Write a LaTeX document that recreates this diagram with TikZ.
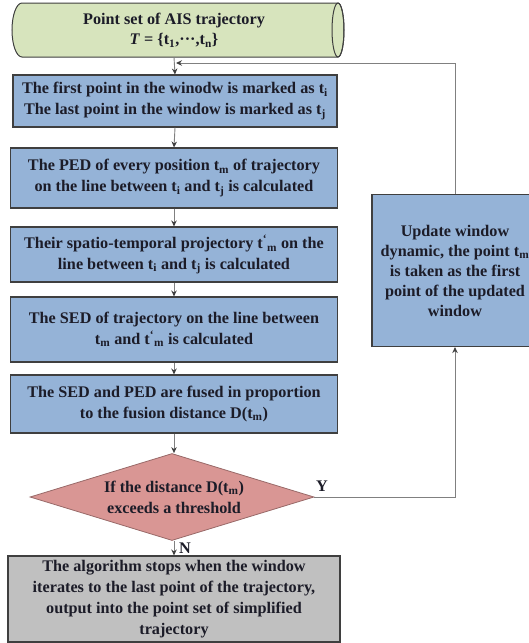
\documentclass[tikz,border=0pt]{standalone}
\usepackage{fontspec}
\setmainfont{Liberation Serif}
\usetikzlibrary{arrows.meta,shapes.geometric}
\definecolor{cylg}{HTML}{D7E4BD}
\definecolor{boxblue}{HTML}{95B3D7}
\definecolor{decred}{HTML}{D99694}
\definecolor{endgray}{HTML}{C0C0C0}
\definecolor{boxline}{HTML}{3F3F3F}
\definecolor{linegray}{HTML}{808080}
\definecolor{arrdark}{HTML}{404040}
\definecolor{txt}{HTML}{1C1C28}
\newcommand{\tpm}{t\textsuperscript{\textquoteleft}\textsubscript{m}}
\begin{document}
\begin{tikzpicture}[x=1pt,y=-1pt,
  box/.style={draw=boxline, line width=1.1pt, fill=boxblue, inner sep=1pt, align=center,
    font=\fontsize{16.2}{20.8}\selectfont\bfseries, text=txt},
  plain/.style={inner sep=0pt, align=center, font=\fontsize{16.2}{20.8}\selectfont\bfseries, text=txt},
  conn/.style={draw=linegray, line width=0.9pt},
  arr/.style={conn, -{Stealth[length=6pt,width=5.5pt,color=arrdark]}}]
\useasboundingbox (0,0) rectangle (528,643);
% cylinder
\filldraw[fill=cylg, draw=boxline, line width=1pt]
  (22,3) -- (338,3) arc[start angle=90, end angle=-90, x radius=6pt, y radius=27pt]
  -- (22,57) arc[start angle=270, end angle=90, x radius=10pt, y radius=27pt] -- cycle;
\draw[boxline, line width=1pt] (338,30) ellipse [x radius=6pt, y radius=27pt];
\node[plain, minimum width=300pt, minimum height=54pt] (cyl) at (174,30)
  {Point set of AIS trajectory\\\textit{T} = \{t\textsubscript{1},\textperiodcentered\textperiodcentered\textperiodcentered,t\textsubscript{n}\}};
% boxes
\node[box, minimum width=324pt, minimum height=52pt] (b1) at (175,101)
  {The first point in the winodw is marked as t\textsubscript{i}\\The last point in the window is marked as t\textsubscript{j}};
\node[box, minimum width=327pt, minimum height=60pt] (b2) at (174,178)
  {The PED of every position t\textsubscript{m} of trajectory\\on the line between t\textsubscript{i} and t\textsubscript{j} is calculated};
\node[box, minimum width=327pt, minimum height=55pt] (b3) at (174,254.5)
  {Their spatio-temporal projectory \tpm{} on the\\line between t\textsubscript{i} and t\textsubscript{j} is calculated};
\node[box, minimum width=327pt, minimum height=65pt] (b4) at (174,329.5)
  {The SED of trajectory on the line between\\t\textsubscript{m} and \tpm{} is calculated};
\node[box, minimum width=327pt, minimum height=58pt] (b5) at (174,404)
  {The SED and PED are fused in proportion\\to the fusion distance D(t\textsubscript{m})};
\node[draw=decred!70!black, line width=0.8pt, fill=decred, diamond, minimum width=284pt, minimum height=87pt, inner sep=0pt] (dec) at (172,497) {};
\node[plain] (dect) at (174,497) {If the distance D(t\textsubscript{m})\\exceeds a threshold};
\node[box, fill=endgray, minimum width=332pt, minimum height=86pt] (b6) at (174,599)
  {The algorithm stops when the window\\iterates to the last point of the trajectory,\\output into the point set of simplified\\trajectory};
\node[box, minimum width=166pt, minimum height=152pt, font=\fontsize{16.2}{20}\selectfont\bfseries] (upd) at (455,270.5)
  {Update window\\dynamic, the point t\textsubscript{m}\\is taken as the first\\point of the updated\\window};
% connectors
\coordinate (j) at (176,63);
\draw[arr] (cyl.south) -- (b1.north);
\draw[arr] (b1.south) -- (b2.north);
\draw[arr] (b2.south) -- (b3.north);
\draw[arr] (b3.south) -- (b4.north);
\draw[arr] (b4.south) -- (b5.north);
\draw[arr] (b5.south) -- (b5.south |- dec.north);
\draw[arr] (b6.north |- dec.south) -- (b6.north);
\draw[arr] (dec.east) -| (upd.south);
\draw[arr] (upd.north) |- (j);
\node[plain] (ylab) at (322,486) {Y};
\node[plain] (nlab) at (185,548) {N};
\end{tikzpicture}
\end{document}
